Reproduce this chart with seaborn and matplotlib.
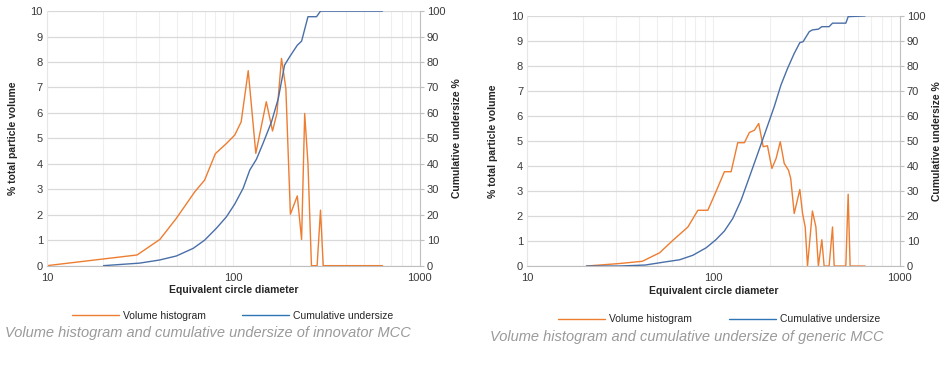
import matplotlib
matplotlib.use("Agg")
import numpy as np
import pandas as pd
import matplotlib.pyplot as plt
import seaborn as sns
from matplotlib.lines import Line2D
from matplotlib.ticker import FixedLocator, NullFormatter

# innovator MCC - volume histogram (% total particle volume)
inn_vol_d = [10, 30.4, 40.3, 49.4, 62, 70, 80, 91.7, 101.6, 110, 120, 131.8, 150, 162,
             171, 181, 191, 202, 220, 232, 241, 251, 262, 281, 293, 303, 630]
inn_vol = [0.0, 0.42, 1.03, 1.86, 2.9, 3.36, 4.4, 4.8, 5.13, 5.65, 7.66, 4.41, 6.44, 5.29,
           5.98, 8.14, 6.96, 2.02, 2.74, 1.03, 5.98, 4.0, 0.0, 0.0, 2.18, 0.0, 0.0]
# innovator MCC - cumulative undersize %
inn_cum_d = [20.1, 31.4, 40, 49.4, 60.8, 70, 81, 91.7, 101.6, 112.7, 122.4, 132.8, 144,
             160, 174, 188, 200, 220, 232, 251, 279, 293, 630]
inn_cum = [0, 1, 2.2, 3.8, 6.8, 10, 14.7, 19.2, 24.2, 30.4, 37.6, 41.8, 48,
           56.5, 65.7, 78.8, 82, 86.6, 88.2, 97.8, 97.8, 100, 100]

# generic MCC - volume histogram
gen_vol_d = [20.8, 31.3, 41.5, 51.4, 60.6, 72.9, 82.5, 93.3, 103, 114.5, 124.4, 135, 146.6,
             156, 166, 175, 185, 195, 206, 217, 228.5, 240, 253, 260, 271.5, 291, 301, 311,
             320, 340, 355, 366, 382, 393, 418, 436, 445, 514, 529, 542, 652]
gen_vol = [0.0, 0.1, 0.19, 0.53, 1.03, 1.56, 2.23, 2.23, 2.96, 3.77, 3.77, 4.93, 4.93,
           5.34, 5.43, 5.70, 4.77, 4.81, 3.9, 4.3, 4.97, 4.1, 3.83, 3.5, 2.1, 3.06, 2.1, 1.56,
           0.0, 2.2, 1.56, 0.0, 1.05, 0.0, 0.0, 1.56, 0.0, 0.0, 2.87, 0.0, 0.0]
# generic MCC - cumulative undersize %
gen_cum_d = [20.8, 31.3, 43, 55.7, 65.8, 77.5, 91.4, 103, 114.5, 127, 140.7, 156, 173,
             191.5, 212, 230.5, 250, 271.5, 291, 303, 327, 340, 366, 382, 418, 436, 514,
             529, 652]
gen_cum = [0, 0, 0.4, 1.7, 2.5, 4.3, 7.3, 10.5, 14, 19, 26.3, 35.6, 45,
           54.3, 63.7, 72.4, 79, 85, 89.3, 89.7, 93.7, 94.4, 94.7, 95.7, 95.7, 97.1, 97.1,
           99.7, 100]

captions = ["Volume histogram and cumulative undersize of innovator MCC",
            "Volume histogram and cumulative undersize of generic MCC"]

ORANGE = "#ED7D31"
BLUE = "#4A6FA8"
TXT = "#3a3a3a"

sns.set_style("white")
plt.rcParams["font.family"] = ["Liberation Sans", "DejaVu Sans"]

fig = plt.figure(figsize=(9.5, 3.7), dpi=100)
ax_l = fig.add_axes([0.0495, 0.282, 0.3925, 0.688])
ax_r = fig.add_axes([0.555, 0.281, 0.392, 0.676])


def draw_panel(ax, vol_d, vol, cum_d, cum):
    vol_df = pd.DataFrame({"d": vol_d, "v": vol})
    cum_df = pd.DataFrame({"d": cum_d, "c": cum})
    ax.set_xscale("log")
    sns.lineplot(data=vol_df, x="d", y="v", ax=ax, color=ORANGE, lw=1.0,
                 estimator=None, sort=False)
    ax.set_xlim(10, 1000)
    ax.set_ylim(0, 10)
    ax.set_yticks(range(0, 11))
    ax.set_xticks([10, 100, 1000])
    ax.set_xticklabels(["10", "100", "1000"])
    ax.xaxis.set_minor_locator(FixedLocator([k * 10 ** e for e in (1, 2) for k in range(2, 10)]))
    ax.xaxis.set_minor_formatter(NullFormatter())
    ax.grid(True, which="major", axis="y", color="#d9d9d9", lw=0.9)
    ax.grid(True, which="both", axis="x", color="#efefef", lw=0.8)
    ax.tick_params(axis="y", which="both", length=0, labelsize=8, colors=TXT, pad=3)
    ax.tick_params(axis="x", which="both", length=0, labelsize=8, colors=TXT, pad=5)
    ax.set_xlabel("Equivalent circle diameter", fontsize=7.5, fontweight="bold", color="#262626", labelpad=2)
    ax.set_ylabel("% total particle volume", fontsize=7.5, fontweight="bold", color="#262626", labelpad=9)
    for s in ["top", "right"]:
        ax.spines[s].set_visible(False)
    ax.spines["left"].set_color("#e6e6e6")
    ax.spines["bottom"].set_color("#bfbfbf")

    ax2 = ax.twinx()
    sns.lineplot(data=cum_df, x="d", y="c", ax=ax2, color=BLUE, lw=1.0,
                 estimator=None, sort=False)
    ax2.set_ylim(0, 100)
    ax2.set_yticks(range(0, 101, 10))
    ax2.set_ylabel("Cumulative undersize %", fontsize=7.5, fontweight="bold", color="#262626", labelpad=5)
    ax2.tick_params(axis="y", length=3, color="#bfbfbf", labelsize=8, labelcolor=TXT, pad=2)
    for s in ["top", "left", "bottom"]:
        ax2.spines[s].set_visible(False)
    ax2.spines["right"].set_color("#bfbfbf")
    ax2.grid(False)
    return ax2


draw_panel(ax_l, inn_vol_d, inn_vol, inn_cum_d, inn_cum)
draw_panel(ax_r, gen_vol_d, gen_vol, gen_cum_d, gen_cum)

handles = [Line2D([], [], color=ORANGE, lw=1.0), Line2D([], [], color="#2E75B6", lw=1.0)]
labels = ["Volume histogram", "Cumulative undersize"]
for cx, cy in [(0.245, 0.147), (0.757, 0.137)]:
    fig.legend(handles, labels, loc="center", bbox_to_anchor=(cx, cy), ncol=2, frameon=False,
               fontsize=7.5, handlelength=4.5, handletextpad=0.4, columnspacing=3.5,
               labelcolor="#262626")

fig.text(0.005, 0.10, captions[0], fontsize=10.5, style="italic", color="#9a9a9a", va="center")
fig.text(0.516, 0.089, captions[1], fontsize=10.5, style="italic", color="#9a9a9a", va="center")

fig.savefig("out.png", dpi=100)
